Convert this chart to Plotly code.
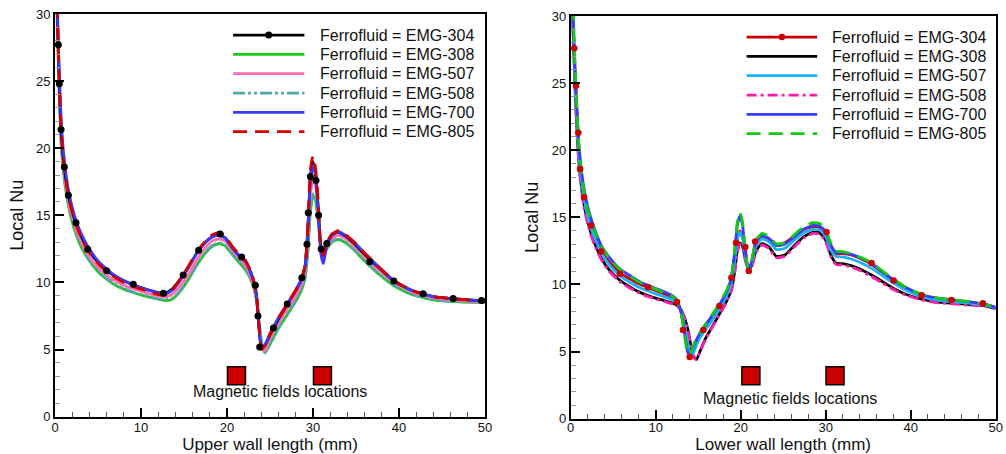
import plotly.graph_objects as go

# ---------------- data ----------------
NAMES = ["Ferrofluid = EMG-304", "Ferrofluid = EMG-308", "Ferrofluid = EMG-507",
         "Ferrofluid = EMG-508", "Ferrofluid = EMG-700", "Ferrofluid = EMG-805"]
X_TICKS = [0, 10, 20, 30, 40, 50]
Y_TICKS = [0, 5, 10, 15, 20, 25, 30]

# Upper wall
UP_X = [0.1, 0.3, 0.5, 0.7, 1.0, 1.5, 2.0, 2.5, 3.0, 3.8, 5.0, 6.0, 7.0, 8.0, 9.0, 10.0, 11.0, 12.0,
        12.8, 13.6, 14.5, 15.5, 16.5, 17.5, 18.3, 19.1, 19.8, 20.6, 21.4, 22.2, 22.9, 23.4, 23.7, 24.0,
        24.4, 25.0, 26.0, 27.0, 28.0, 28.7, 29.1, 29.4, 29.7, 30.0, 30.3, 30.6, 30.9, 31.2, 31.6, 32.2,
        32.9, 33.8, 34.8, 36.0, 37.5, 39.4, 41.5, 44.0, 47.0, 50.0]
UP_304 = [34, 29.2, 24.8, 21.4, 19.0, 16.7, 15.3, 14.3, 13.5, 12.5, 11.5, 10.9, 10.45, 10.1, 9.85, 9.62,
          9.42, 9.25, 9.2, 9.5, 10.2, 11.1, 12.2, 13.0, 13.4, 13.55, 13.3, 12.6, 12.0, 11.5, 10.5, 9.2,
          6.8, 5.1, 5.3, 6.1, 7.3, 8.35, 9.4, 10.3, 11.3, 14.0, 17.9, 19.0, 18.0, 15.6, 12.7, 12.0, 12.9,
          13.5, 13.75, 13.45, 12.9, 12.1, 11.2, 10.1, 9.4, 8.95, 8.75, 8.6]
UP_308 = [34, 28.6, 24.0, 20.5, 18.1, 15.9, 14.5, 13.5, 12.7, 11.8, 10.8, 10.25, 9.8, 9.5, 9.27, 9.08,
          8.9, 8.75, 8.65, 8.75, 9.3, 10.2, 11.3, 12.2, 12.7, 12.9, 12.7, 12.1, 11.5, 10.9, 10.0, 8.8,
          7.2, 5.6, 4.75, 5.4, 6.6, 7.6, 8.6, 9.5, 10.4, 12.3, 15.3, 16.5, 16.1, 14.6, 12.7, 12.1, 12.5,
          13.0, 13.2, 12.95, 12.4, 11.6, 10.7, 9.75, 9.1, 8.7, 8.55, 8.5]
UP_507 = [34, 29.0, 24.5, 21.0, 18.6, 16.3, 14.9, 13.9, 13.1, 12.1, 11.1, 10.55, 10.1, 9.8, 9.55, 9.35,
          9.15, 9.0, 8.9, 9.1, 9.7, 10.6, 11.7, 12.6, 13.1, 13.25, 13.05, 12.4, 11.8, 11.2, 10.2, 8.9,
          7.0, 5.3, 4.9, 5.8, 7.0, 8.0, 9.0, 9.9, 10.9, 13.2, 16.5, 17.7, 17.2, 15.2, 12.7, 12.0, 12.6,
          13.25, 13.5, 13.25, 12.7, 11.9, 11.0, 10.0, 9.3, 8.85, 8.65, 8.55]
UP_508 = [34, 28.7, 24.1, 20.6, 18.2, 16.0, 14.6, 13.6, 12.8, 11.85, 10.85, 10.3, 9.85, 9.55, 9.3, 9.1,
          8.93, 8.78, 8.7, 8.8, 9.35, 10.25, 11.35, 12.25, 12.75, 12.95, 12.75, 12.15, 11.55, 10.95, 10.05,
          8.85, 7.2, 5.6, 4.8, 5.45, 6.65, 7.65, 8.65, 9.55, 10.45, 12.4, 15.4, 16.6, 16.2, 14.7, 12.75,
          12.15, 12.55, 13.05, 13.25, 13.0, 12.45, 11.65, 10.75, 9.8, 9.12, 8.72, 8.57, 8.52]
UP_700 = [34, 29.6, 25.5, 22.3, 19.6, 17.1, 15.6, 14.5, 13.7, 12.7, 11.6, 11.0, 10.5, 10.15, 9.85, 9.6,
          9.4, 9.2, 9.1, 9.4, 10.1, 11.1, 12.2, 13.0, 13.4, 13.55, 13.3, 12.6, 12.0, 11.5, 10.5, 9.2, 6.9,
          5.2, 5.35, 6.2, 7.4, 8.4, 9.45, 10.3, 11.3, 14.0, 17.6, 18.7, 18.0, 15.5, 12.2, 11.4, 12.7, 13.5,
          13.8, 13.5, 13.0, 12.2, 11.25, 10.15, 9.4, 8.95, 8.75, 8.6]
UP_805 = [34, 29.5, 25.0, 21.6, 19.1, 16.7, 15.2, 14.2, 13.4, 12.4, 11.4, 10.8, 10.35, 10.0, 9.72, 9.5,
          9.3, 9.1, 9.05, 9.4, 10.2, 11.2, 12.3, 13.1, 13.55, 13.72, 13.45, 12.7, 12.1, 11.6, 10.6, 9.3,
          6.9, 5.0, 5.3, 6.15, 7.35, 8.4, 9.45, 10.35, 11.4, 14.3, 18.4, 19.4, 18.5, 16.1, 12.7, 12.0,
          13.0, 13.6, 13.85, 13.55, 13.0, 12.2, 11.25, 10.15, 9.4, 8.95, 8.75, 8.6]
UP_304_MX = [0.38, 0.5, 0.7, 1.08, 1.55, 2.44, 3.8, 6.0, 9.1, 12.6, 14.9, 16.7, 19.2, 21.7, 23.3, 23.6,
             23.8, 25.4, 27.0, 28.7, 29.3, 29.45, 29.7, 30.35, 30.65, 30.95, 31.6, 36.6, 39.4, 42.8,
             46.3, 49.6]
UP_304_MY = [27.7, 24.8, 21.4, 18.6, 16.5, 14.45, 12.47, 10.88, 9.87, 9.2, 10.55, 12.4, 13.6, 11.9, 9.8,
             7.5, 5.2, 6.6, 8.4, 10.35, 12.85, 15.2, 17.9, 17.6, 15.0, 12.5, 12.9, 11.55, 10.1, 9.15,
             8.8, 8.65]
UP_MAG_X = [21.1, 31.1]
UP_MAG_Y = [3.05, 3.05]

# Lower wall
LO_X = [0.1, 0.3, 0.5, 0.7, 1.0, 1.5, 2.0, 2.5, 3.0, 3.6, 4.5, 5.8, 7.0, 8.0, 9.0, 10.0, 11.0, 12.0,
        12.5, 13.0, 13.4, 13.8, 14.1, 14.4, 14.8, 15.2, 15.8, 16.6, 17.5, 18.3, 18.9, 19.3, 19.6, 19.9,
        20.2, 20.5, 20.9, 21.3, 21.8, 22.5, 23.3, 24.2, 25.2, 26.3, 27.4, 28.5, 29.3, 30.0, 30.6, 31.2,
        32.0, 33.0, 34.2, 35.4, 36.7, 38.0, 39.5, 41.3, 43.0, 45.0, 47.0, 48.5, 50.0]
LO_304 = [34, 29.5, 26.0, 23.5, 19.8, 16.8, 15.3, 14.3, 13.4, 12.5, 11.7, 10.85, 10.4, 10.05, 9.8, 9.55,
          9.3, 9.0, 8.75, 7.9, 6.6, 5.0, 4.6, 5.0, 5.6, 6.1, 6.7, 7.4, 8.3, 9.2, 10.3, 12.2, 13.4, 14.0,
          13.6, 12.9, 11.1, 11.6, 13.2, 13.6, 13.4, 13.0, 13.1, 13.6, 14.1, 14.3, 14.25, 13.9, 12.9, 12.3,
          12.3, 12.2, 11.9, 11.5, 10.9, 10.3, 9.7, 9.2, 8.95, 8.8, 8.65, 8.55, 8.3]
LO_308 = [34, 28.6, 25.0, 22.0, 18.9, 16.2, 14.7, 13.6, 12.8, 11.95, 11.1, 10.3, 9.8, 9.45, 9.2, 8.98,
          8.8, 8.6, 8.45, 8.1, 7.5, 6.6, 5.6, 4.7, 4.4, 5.0, 5.9, 6.8, 7.8, 8.7, 9.6, 11.0, 12.5, 13.1,
          12.9, 12.0, 11.1, 11.4, 12.5, 13.05, 12.8, 12.1, 12.2, 12.9, 13.55, 13.9, 13.85, 13.3, 12.2,
          11.6, 11.55, 11.4, 11.1, 10.7, 10.2, 9.7, 9.25, 8.9, 8.7, 8.6, 8.5, 8.45, 8.2]
LO_507 = [34, 29.0, 25.5, 22.5, 19.4, 16.7, 15.1, 14.0, 13.2, 12.35, 11.5, 10.65, 10.15, 9.8, 9.55, 9.3,
          9.1, 8.85, 8.65, 8.0, 6.9, 5.5, 4.75, 4.85, 5.5, 6.0, 6.6, 7.3, 8.2, 9.1, 10.1, 11.8, 13.3, 13.9,
          13.5, 12.3, 11.1, 11.6, 12.9, 13.4, 13.2, 12.6, 12.7, 13.3, 13.85, 14.1, 14.05, 13.6, 12.6, 12.1,
          12.05, 11.9, 11.6, 11.2, 10.65, 10.1, 9.55, 9.1, 8.85, 8.7, 8.6, 8.5, 8.25]
LO_508 = [34, 28.4, 24.7, 21.7, 18.6, 16.0, 14.5, 13.45, 12.65, 11.85, 11.0, 10.2, 9.72, 9.38, 9.12,
          8.92, 8.73, 8.55, 8.4, 8.05, 7.45, 6.5, 5.5, 4.65, 4.4, 4.95, 5.85, 6.75, 7.75, 8.65, 9.55, 10.9,
          12.4, 13.0, 12.85, 12.0, 11.1, 11.35, 12.4, 12.95, 12.7, 12.0, 12.1, 12.8, 13.45, 13.8, 13.75,
          13.2, 12.1, 11.5, 11.45, 11.3, 11.0, 10.6, 10.1, 9.6, 9.2, 8.85, 8.65, 8.55, 8.45, 8.4, 8.2]
LO_700 = [34, 29.2, 26.2, 23.2, 20.1, 17.4, 15.8, 14.7, 13.8, 12.9, 12.05, 11.15, 10.65, 10.25, 9.95,
          9.7, 9.45, 9.15, 8.85, 7.9, 6.4, 4.9, 4.75, 5.3, 5.9, 6.35, 6.95, 7.65, 8.5, 9.4, 10.5, 12.5,
          14.4, 15.1, 14.5, 12.7, 11.05, 11.7, 13.2, 13.65, 13.45, 12.9, 13.0, 13.55, 14.1, 14.4, 14.35,
          13.95, 12.95, 12.4, 12.4, 12.25, 11.95, 11.55, 10.95, 10.35, 9.75, 9.25, 9.0, 8.85, 8.7, 8.55,
          8.3]
LO_805 = [34, 30.5, 26.5, 23.5, 20.0, 17.2, 15.6, 14.6, 13.7, 12.85, 12.0, 11.1, 10.6, 10.2, 9.9, 9.65,
          9.4, 9.1, 8.8, 7.8, 6.2, 4.8, 4.8, 5.4, 6.0, 6.4, 7.0, 7.7, 8.6, 9.5, 10.6, 12.6, 14.6, 15.35,
          14.7, 12.8, 11.1, 11.8, 13.3, 13.8, 13.6, 13.0, 13.1, 13.7, 14.3, 14.6, 14.55, 14.1, 13.1, 12.5,
          12.45, 12.3, 12.0, 11.6, 11.0, 10.4, 9.75, 9.25, 9.0, 8.85, 8.7, 8.55, 8.3]
LO_304_MX = [0.42, 0.62, 0.9, 1.1, 1.56, 2.4, 3.6, 5.8, 9.1, 12.5, 13.2, 14.0, 15.6, 17.5, 18.9, 19.45,
             20.55, 20.95, 21.7, 30.1, 35.4, 38.0, 41.3, 44.8, 48.5]
LO_304_MY = [27.6, 24.8, 21.3, 18.6, 16.5, 14.4, 12.45, 10.8, 9.8, 8.7, 6.6, 4.6, 6.6, 8.4, 10.5, 13.1,
             12.8, 11.0, 13.2, 13.9, 11.6, 10.3, 9.2, 8.85, 8.6]
LO_MAG_X = [21.2, 31.1]
LO_MAG_Y = [3.2, 3.2]

# ---------------- styles ----------------
FONT = "Liberation Sans, Arial, sans-serif"
UP_STYLE = {  # name index -> (color, dash)
    0: ("#000000", "solid"),
    1: ("#19c819", "solid"),
    2: ("#ff6eb4", "solid"),
    3: ("#4fa8a8", "12px,3px,3px,3px,3px,3px"),
    4: ("#3a3aff", "solid"),
    5: ("#d40000", "14px,8px"),
}
LO_STYLE = {
    0: ("#cc0000", "solid"),
    1: ("#000000", "solid"),
    2: ("#1ab2ff", "solid"),
    3: ("#ff1aa8", "10px,4px,3px,4px"),
    4: ("#3a3aff", "solid"),
    5: ("#14c814", "14px,8px"),
}
UP_SERIES = [UP_304, UP_308, UP_507, UP_508, UP_700, UP_805]
LO_SERIES = [LO_304, LO_308, LO_507, LO_508, LO_700, LO_805]
UP_ORDER = [1, 3, 2, 0, 4, 5]
LO_ORDER = [0, 1, 3, 2, 4, 5]
LW = 2.8

fig = go.Figure()


def add_panel(xs, series, order, style, mx, my, mcolor, msize, magx, magy, xa, ya):
    for i in order:
        col, dash = style[i]
        fig.add_trace(go.Scatter(
            x=xs, y=series[i], mode="lines", name=NAMES[i], showlegend=False,
            line=dict(color=col, width=LW, dash=dash, shape="spline", smoothing=0.5),
            xaxis=xa, yaxis=ya, hoverinfo="skip"))
    fig.add_trace(go.Scatter(
        x=mx, y=my, mode="markers", showlegend=False, hoverinfo="skip",
        marker=dict(color=mcolor, size=msize), xaxis=xa, yaxis=ya))
    fig.add_trace(go.Scatter(
        x=magx, y=magy, mode="markers", showlegend=False, hoverinfo="skip",
        marker=dict(symbol="square", color="#cc0000", size=18,
                    line=dict(color="black", width=1.5)),
        xaxis=xa, yaxis=ya))


add_panel(UP_X, UP_SERIES, UP_ORDER, UP_STYLE, UP_304_MX, UP_304_MY, "black", 7,
          UP_MAG_X, UP_MAG_Y, "x", "y")
add_panel(LO_X, LO_SERIES, LO_ORDER, LO_STYLE, LO_304_MX, LO_304_MY, "#cc0000", 6.5,
          LO_MAG_X, LO_MAG_Y, "x2", "y2")

shapes = []
annotations = []
LEG_X0, LEG_X1, LEG_TX = 20.7, 29.0, 30.55
LEG_Y0, LEG_DY = 28.43, 1.44
for xr, yr, style, mcol, msz in (("x", "y", UP_STYLE, "black", 3.5),
                                 ("x2", "y2", LO_STYLE, "#cc0000", 3.2)):
    for i, name in enumerate(NAMES):
        yy = LEG_Y0 - i * LEG_DY
        col, dash = style[i]
        shapes.append(dict(type="line", xref=xr, yref=yr, x0=LEG_X0, x1=LEG_X1, y0=yy, y1=yy,
                           line=dict(color=col, width=LW, dash=dash)))
        annotations.append(dict(xref=xr, yref=yr, x=LEG_TX, y=yy, text=name, showarrow=False,
                                xanchor="left", yanchor="middle",
                                font=dict(family=FONT, size=16, color="#111")))
    shapes.append(dict(type="circle", xref=xr, yref=yr, xsizemode="pixel", ysizemode="pixel",
                       xanchor=(LEG_X0 + LEG_X1) / 2, yanchor=LEG_Y0,
                       x0=-msz, x1=msz, y0=-msz, y1=msz,
                       fillcolor=mcol, line=dict(color=mcol, width=0)))

annotations.append(dict(xref="x", yref="y", x=26.2, y=1.84, text="Magnetic fields locations",
                        showarrow=False, font=dict(family=FONT, size=16, color="#111")))
annotations.append(dict(xref="x2", yref="y2", x=25.85, y=1.52, text="Magnetic fields locations",
                        showarrow=False, font=dict(family=FONT, size=16, color="#111")))


def xaxis(domain, anchor, title, lab_off):
    return dict(domain=domain, anchor=anchor, range=[0, 50], tickvals=X_TICKS,
                ticks="inside", ticklen=9, tickwidth=1.5, tickcolor="black",
                showline=True, linewidth=1.8, linecolor="black", mirror=True,
                showgrid=False, zeroline=False, automargin=False, ticklabelstandoff=lab_off,
                minor=dict(dtick=2, ticks="inside", ticklen=5, tickwidth=1, tickcolor="#555"),
                tickfont=dict(family=FONT, size=13, color="#111"),
                title=dict(text=title, font=dict(family=FONT, size=17, color="#111"), standoff=9))


def yaxis(domain, anchor):
    return dict(domain=domain, anchor=anchor, range=[0, 30], tickvals=Y_TICKS,
                ticks="inside", ticklen=9, tickwidth=1.5, tickcolor="black",
                showline=True, linewidth=1.8, linecolor="black", mirror=True,
                showgrid=False, zeroline=False, automargin=False,
                minor=dict(dtick=1, ticks="inside", ticklen=5, tickwidth=1, tickcolor="#999"),
                tickfont=dict(family=FONT, size=13, color="#111"),
                title=dict(text="Local Nu", font=dict(family=FONT, size=18, color="#111"), standoff=8))


fig.update_layout(
    width=1006, height=454, margin=dict(l=0, r=0, t=0, b=0, autoexpand=False),
    paper_bgcolor="white", plot_bgcolor="white", showlegend=False,
    xaxis=xaxis([0.0547, 0.4821], "y", "Upper wall length (mm)", -2),
    yaxis=yaxis([0.0822, 0.9692], "x"),
    xaxis2=xaxis([0.5673, 0.9897], "y2", "Lower wall length (mm)", -4),
    yaxis2=yaxis([0.0777, 0.9648], "x2"),
    shapes=shapes, annotations=annotations,
)

fig.write_html("out.html")
